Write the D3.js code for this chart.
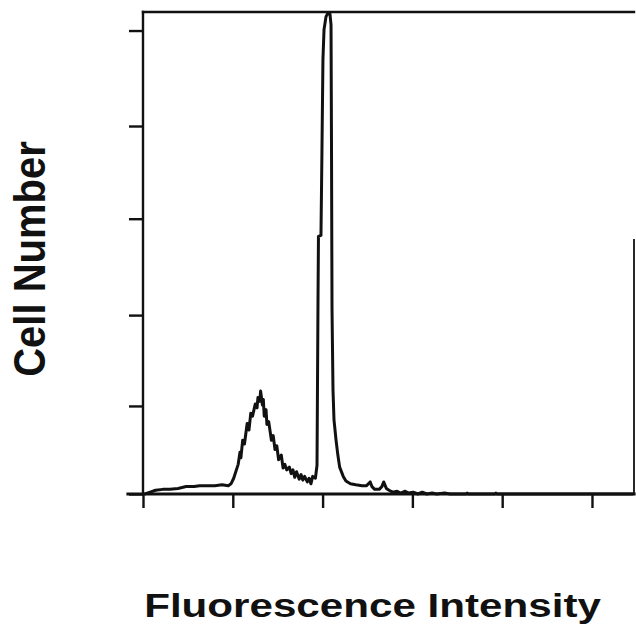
<!DOCTYPE html>
<html><head><meta charset="utf-8">
<script src="https://cdn.jsdelivr.net/npm/d3@7"></script>
<style>html,body{margin:0;padding:0;background:#fff;} svg{display:block;}</style>
</head><body>
<svg id="chart" width="636" height="631"></svg>
<script>
// Histogram trace: fluorescence intensity (decades) vs cell number
const intensity = [0.02,0.08,0.14,0.22,0.30,0.39,0.48,0.57,0.63,0.72,0.80,0.88,0.95,0.98,1.01,1.04,1.06,1.08,1.09,1.11,1.13,1.16,1.18,1.20,1.22,1.25,1.27,1.28,1.30,1.31,1.33,1.34,1.35,1.37,1.38,1.40,1.43,1.45,1.47,1.49,1.51,1.54,1.56,1.58,1.60,1.63,1.65,1.67,1.69,1.71,1.74,1.76,1.78,1.80,1.83,1.85,1.87,1.89,1.92,1.938,1.949,1.954,1.982,1.993,2.004,2.016,2.038,2.060,2.082,2.094,2.099,2.105,2.116,2.127,2.15,2.17,2.19,2.23,2.26,2.31,2.37,2.44,2.49,2.53,2.55,2.58,2.63,2.66,2.68,2.71,2.74,2.78,2.83,2.87,2.92,2.96,3.01,3.06,3.11,3.16,3.22,3.27,3.36,3.42,3.60,3.61,3.62,3.92,3.93,3.94,5.46];
const cellCount = [0,2,4,5,5,6,8,8,9,9,9,10,9,11,17,26,32,45,39,58,54,76,69,87,84,97,93,104,100,111,96,102,84,91,75,78,58,63,48,52,37,42,28,32,26,29,22,26,18,24,16,21,15,19,13,17,11,19,17,31,210,278,279,371,469,501,515,519,518,506,382,199,112,80,58,42,29,19,14,11,10,9,9,13,8,5,5,8,13,6,4,2,3,1,3,1,2,0,2,0,1,0,1,0,0,1,0,0,1,0,0];
const xTicks = [0,1,2,3,4,5];
const yTicks = [0,95,193,297,397,500];
const xDomain = [0,5.468];
const yDomain = [0,520];
const xLabel = "Fluorescence Intensity";
const yLabel = "Cell Number";
const rightBorderFrom = 274; // right frame edge only visible below this count

const svg = d3.select("#chart");
const plot = {left:143, right:634, top:12, bottom:494};
const x = d3.scaleLinear().domain(xDomain).range([plot.left, plot.right]);
const y = d3.scaleLinear().domain(yDomain).range([plot.bottom, plot.top]);
const ink = "#111";

// axes ticks
const xAxis = svg.append("g").attr("transform",`translate(0,${plot.bottom})`)
  .call(d3.axisBottom(x).tickValues(xTicks).tickSize(14).tickFormat(""));
xAxis.select(".domain").remove();
xAxis.selectAll("line").attr("stroke",ink).attr("stroke-width",2.4);

const yAxis = svg.append("g").attr("transform",`translate(${plot.left},0)`)
  .call(d3.axisLeft(y).tickValues(yTicks).tickSize(14).tickFormat(""));
yAxis.select(".domain").remove();
yAxis.selectAll("line").attr("stroke",ink).attr("stroke-width",2.4);

// frame
const frame = svg.append("g").attr("stroke",ink).attr("fill","none").attr("stroke-linecap","square");
frame.append("line").attr("x1",x(xDomain[0])).attr("x2",x(xDomain[0])).attr("y1",y(yDomain[1])).attr("y2",y(0)).attr("stroke-width",2.4);
frame.append("line").attr("x1",x(xDomain[0])).attr("x2",x(xDomain[1])).attr("y1",y(yDomain[1])).attr("y2",y(yDomain[1])).attr("stroke-width",2.4);
frame.append("line").attr("x1",x(xDomain[0])-15).attr("x2",x(xDomain[1])).attr("y1",y(0)).attr("y2",y(0)).attr("stroke-width",3.2);
frame.append("line").attr("x1",x(xDomain[1])).attr("x2",x(xDomain[1])).attr("y1",y(rightBorderFrom)).attr("y2",y(0)).attr("stroke-width",1.8);

// histogram trace
const pts = intensity.map((v,i)=>[v,cellCount[i]]);
svg.append("path").datum(pts)
  .attr("fill","none").attr("stroke",ink).attr("stroke-width",3)
  .attr("stroke-linejoin","round")
  .attr("d", d3.line().x(d=>x(d[0])).y(d=>y(d[1])));

// labels
const font = "'Liberation Sans', Arial, Helvetica, sans-serif";
svg.append("text").text(xLabel)
  .attr("transform",`translate(372.5,617) scale(1.24,1)`)
  .attr("text-anchor","middle").attr("font-family",font).attr("font-weight","bold")
  .attr("font-size",34).attr("fill",ink);
svg.append("text").text(yLabel)
  .attr("transform",`translate(45,259) scale(1.12,1) rotate(-90)`)
  .attr("text-anchor","middle").attr("font-family",font).attr("font-weight","bold")
  .attr("font-size",40).attr("fill",ink);
</script>
</body></html>
